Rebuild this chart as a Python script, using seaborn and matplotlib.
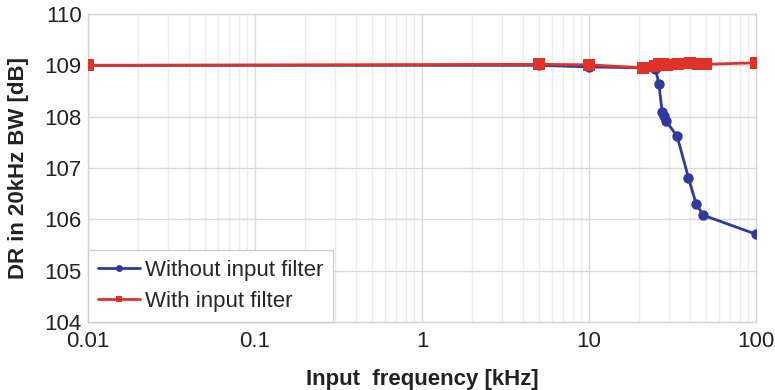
import numpy as np
import pandas as pd
import matplotlib
matplotlib.use("Agg")
import matplotlib.pyplot as plt
import matplotlib.ticker as mticker
import seaborn as sns

# Data
freq_without = [0.01, 5, 10, 21, 25, 26.2, 27.4, 28.1, 29.0, 33.7, 39.4, 43.8, 48.4, 100]
dr_without = [109.0, 109.0, 108.97, 108.95, 108.93, 108.64, 108.10, 108.01, 107.91, 107.62, 106.81, 106.30, 106.08, 105.71]

freq_with = [0.01, 5, 10, 21, 24.9, 26.4, 27.9, 29.2, 34, 40, 45, 50, 100]
dr_with = [109.0, 109.02, 109.01, 108.95, 108.99, 109.02, 109.03, 109.0, 109.02, 109.05, 109.02, 109.02, 109.05]

xticks = [0.01, 0.1, 1, 10, 100]
xtick_labels = ["0.01", "0.1", "1", "10", "100"]
yticks = [104, 105, 106, 107, 108, 109, 110]

series_names = ["Without input filter", "With input filter"]
colors = ["#2E3B9E", "#E1322A"]

sns.set_theme(style="white")
plt.rcParams["font.family"] = ["Liberation Sans", "DejaVu Sans"]

df_without = pd.DataFrame({"f": freq_without, "dr": dr_without})
df_with = pd.DataFrame({"f": freq_with, "dr": dr_with})

fig = plt.figure(figsize=(7.75, 3.9), dpi=100)
ax = fig.add_axes([88 / 775, 1 - 322 / 390, (756 - 88) / 775, (322 - 14) / 390])

sns.lineplot(data=df_without, x="f", y="dr", ax=ax, color=colors[0], marker="o",
             markersize=7.5, markeredgewidth=0, linewidth=2, label=series_names[0],
             sort=False, zorder=3)
sns.lineplot(data=df_with, x="f", y="dr", ax=ax, color=colors[1], marker="s",
             markersize=8.5, markeredgewidth=0, linewidth=2, label=series_names[1],
             sort=False, zorder=4)

ax.set_xscale("log")
ax.set_xlim(0.01, 100)
ax.set_ylim(104, 110)
ax.set_xticks(xticks)
ax.set_xticklabels(xtick_labels)
ax.xaxis.set_minor_locator(mticker.LogLocator(base=10, subs=np.arange(2, 10), numticks=50))
ax.xaxis.set_minor_formatter(mticker.NullFormatter())
ax.set_yticks(yticks)

ax.grid(True, which="major", axis="both", color="#dadada", linewidth=1)
ax.grid(True, which="minor", axis="x", color="#ececec", linewidth=1)
ax.set_axisbelow(True)

for s in ax.spines.values():
    s.set_color("#d4d4d4")
    s.set_linewidth(1)

ax.tick_params(axis="both", which="both", length=0, labelsize=16, colors="#222222")
ax.tick_params(axis="x", pad=6.5)
ax.tick_params(axis="y", pad=4.5)

ax.set_xlabel("Input  frequency [kHz]", fontsize=16, fontweight="bold", color="#222222", labelpad=12)
ax.set_ylabel("DR in 20kHz BW [dB]", fontsize=16, fontweight="bold", color="#222222", labelpad=11)

leg = ax.legend(loc="lower left", borderaxespad=0, fontsize=16, frameon=True,
                fancybox=False, framealpha=1, edgecolor="#cfcfcf",
                handlelength=1.9, handletextpad=0.2, labelspacing=0.45,
                borderpad=0.45)
leg.get_frame().set_linewidth(1)
for h in leg.legend_handles:
    h.set_markersize(5)
    h.set_linewidth(2)

fig.savefig("out.png", dpi=100)
